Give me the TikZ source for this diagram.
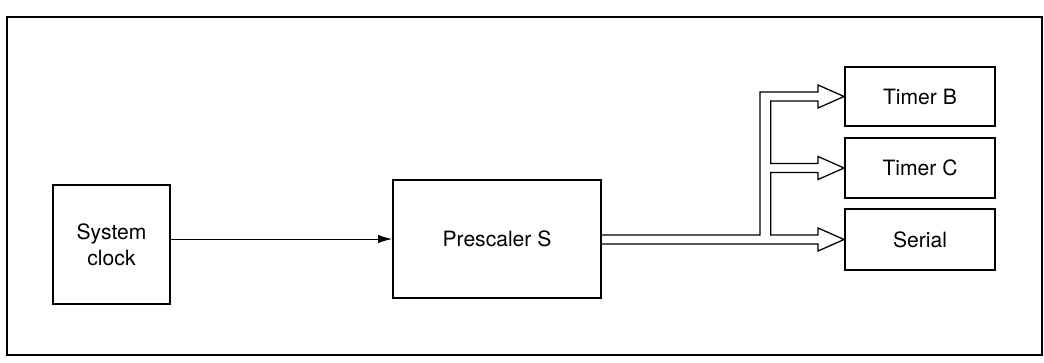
\documentclass[tikz,border=0pt]{standalone}
\usepackage{fontspec}
\setmainfont{TeX Gyre Heros}
\usetikzlibrary{arrows.meta,calc}

\begin{document}
\begin{tikzpicture}[x=0.025cm,y=-0.025cm]
	\tikzstyle{block} = [rectangle, draw=black, line width=1.3pt, fill=white, inner sep=0pt, align=center, font=\fontsize{15}{18.5}\selectfont];
	\tikzstyle{bus} = [line width=0.9pt, line join=miter];

	\useasboundingbox (0,0) rectangle (1044,362);
	\draw[line width=1.1pt] (7,17) rectangle (1042,355);

	\node[block, minimum width=2.93cm, minimum height=2.98cm] at (111.5,244.5) (clock) {System\\clock};
	\node[block, minimum width=5.2cm, minimum height=2.95cm] at (497,239) (prescaler) {Prescaler S};
		\node[block, minimum width=3.75cm, minimum height=1.49cm] at (920,96.5) (timerB) {Timer B};
		\node[block, minimum width=3.75cm, minimum height=1.51cm] at (920,168) (timerC) {Timer C};
		\node[block, minimum width=3.75cm, minimum height=1.52cm] at (920,239.5) (serial) {Serial};

	\draw[line width=0.7pt, -{Latex[length=10pt,width=6pt]}] (clock.east |- prescaler.west) -- (prescaler.west);

	% hollow bus from the prescaler to the three units
	\draw[bus] (prescaler.east |- 0,235) -- (760,235) -- (760,92)
		-- ($(timerB.west)+(-26,-4.5)$) -- ++(0,-7) -- (timerB.west) -- ++(-26,11.5) -- ++(0,-7)
		-- (770.7,101) -- (770.7,163.5)
		-- ($(timerC.west)+(-26,-4.5)$) -- ++(0,-7) -- (timerC.west) -- ++(-26,11.5) -- ++(0,-7)
		-- (770.7,172.5) -- (770.7,235)
		-- ($(serial.west)+(-26,-4.5)$) -- ++(0,-7) -- (serial.west) -- ++(-26,11.5) -- ++(0,-7)
		-- (prescaler.east |- 0,244);
\end{tikzpicture}
\end{document}
